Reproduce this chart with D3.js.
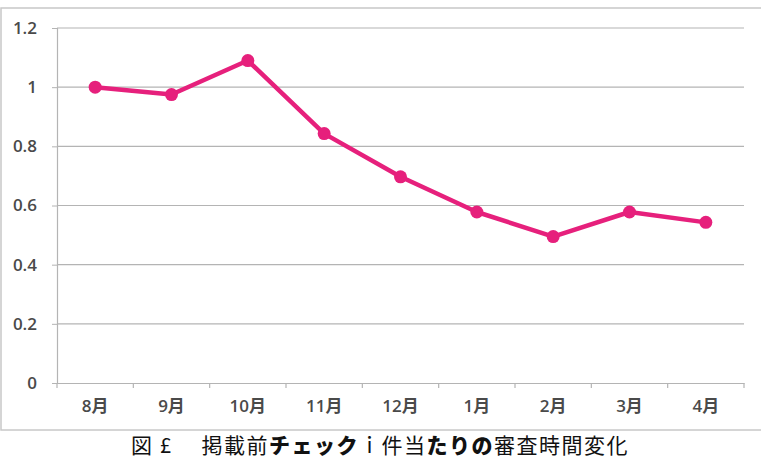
<!DOCTYPE html>
<html><head><meta charset="utf-8">
<script src="https://cdn.jsdelivr.net/npm/d3@7"></script>
<style>body{margin:0;background:#fff}svg{display:block}</style>
</head><body>
<script>
const categories = ["8月","9月","10月","11月","12月","1月","2月","3月","4月"];
const values = [1.0, 0.975, 1.09, 0.843, 0.697, 0.578, 0.495, 0.578, 0.543];
const yTicks = [0, 0.2, 0.4, 0.6, 0.8, 1, 1.2];
const captionParts = [
  {t:"図 £　 掲載前", b:false},
  {t:"チェック", b:true},
  {t:"ｉ", b:false},
  {t:"件当", b:false},
  {t:"たりの", b:true},
  {t:"審査時間変化", b:false}
];

const W = 761, H = 460;
const svg = d3.select("body").append("svg").attr("width", W).attr("height", H);
const m = {left:57, right:744, top:28, bottom:383};
const font = "'Open Sans','Noto Sans CJK JP',sans-serif";

// frame
svg.append("rect").attr("x",1).attr("y",8).attr("width",800).attr("height",422)
  .attr("fill","none").attr("stroke","#c8c8c8").attr("stroke-width",1.5);

const x = d3.scaleBand().domain(categories).range([m.left, m.right]);
const y = d3.scaleLinear().domain([0,1.2]).range([m.bottom, m.top]);

// gridlines
svg.append("g").selectAll("line").data(yTicks.filter(d=>d>0)).join("line")
  .attr("x1", m.left).attr("x2", m.right)
  .attr("y1", d=>y(d)).attr("y2", d=>y(d))
  .attr("stroke","#b4b4b4").attr("stroke-width",1.2);

// y axis
const ya = svg.append("g").attr("transform",`translate(${m.left},0)`)
  .call(d3.axisLeft(y).tickValues(yTicks).tickFormat(d=>d3.format("")(+d.toFixed(1))).tickSize(5).tickPadding(15));
ya.select(".domain").attr("stroke","#b4b4b4").attr("stroke-width",1.2);
ya.selectAll(".tick line").attr("stroke","#b4b4b4");
ya.selectAll("text").attr("font-family",font).attr("font-size",17).attr("font-weight",600).attr("fill","#4a4a4a");

// x axis
const xa = svg.append("g").attr("transform",`translate(0,${m.bottom})`)
  .call(d3.axisBottom(x).tickSize(0).tickPadding(17));
xa.select(".domain").attr("stroke","#b4b4b4").attr("stroke-width",1.2);
xa.selectAll("text").attr("font-family",font).attr("font-size",17).attr("font-weight",600).attr("fill","#4a4a4a");
// boundary ticks
const bounds = categories.map(c=>x(c)).concat([m.right]);
xa.append("g").selectAll("line").data(bounds).join("line")
  .attr("x1",d=>d).attr("x2",d=>d).attr("y1",0).attr("y2",5)
  .attr("stroke","#b4b4b4").attr("stroke-width",1.2);

// line
const cx = d => x(d) + x.bandwidth()/2;
const data = categories.map((c,i)=>({c, v:values[i]}));
svg.append("path").datum(data)
  .attr("d", d3.line().x(d=>cx(d.c)).y(d=>y(d.v)))
  .attr("fill","none").attr("stroke","#e6207c").attr("stroke-width",4.5).attr("stroke-linejoin","round");
svg.append("g").selectAll("circle").data(data).join("circle")
  .attr("cx", d=>cx(d.c)).attr("cy", d=>y(d.v)).attr("r",6.5)
  .attr("fill","#e6207c");

// caption
const cap = svg.append("text").attr("x",380).attr("y",453).attr("text-anchor","middle")
  .attr("font-family","'Noto Sans CJK JP',sans-serif").attr("font-size",21)
  .attr("letter-spacing",1.5).attr("fill","#111");
cap.selectAll("tspan").data(captionParts).join("tspan")
  .text(d=>d.t).attr("font-weight",d=>d.b?"900":"normal");
</script>
</body></html>
